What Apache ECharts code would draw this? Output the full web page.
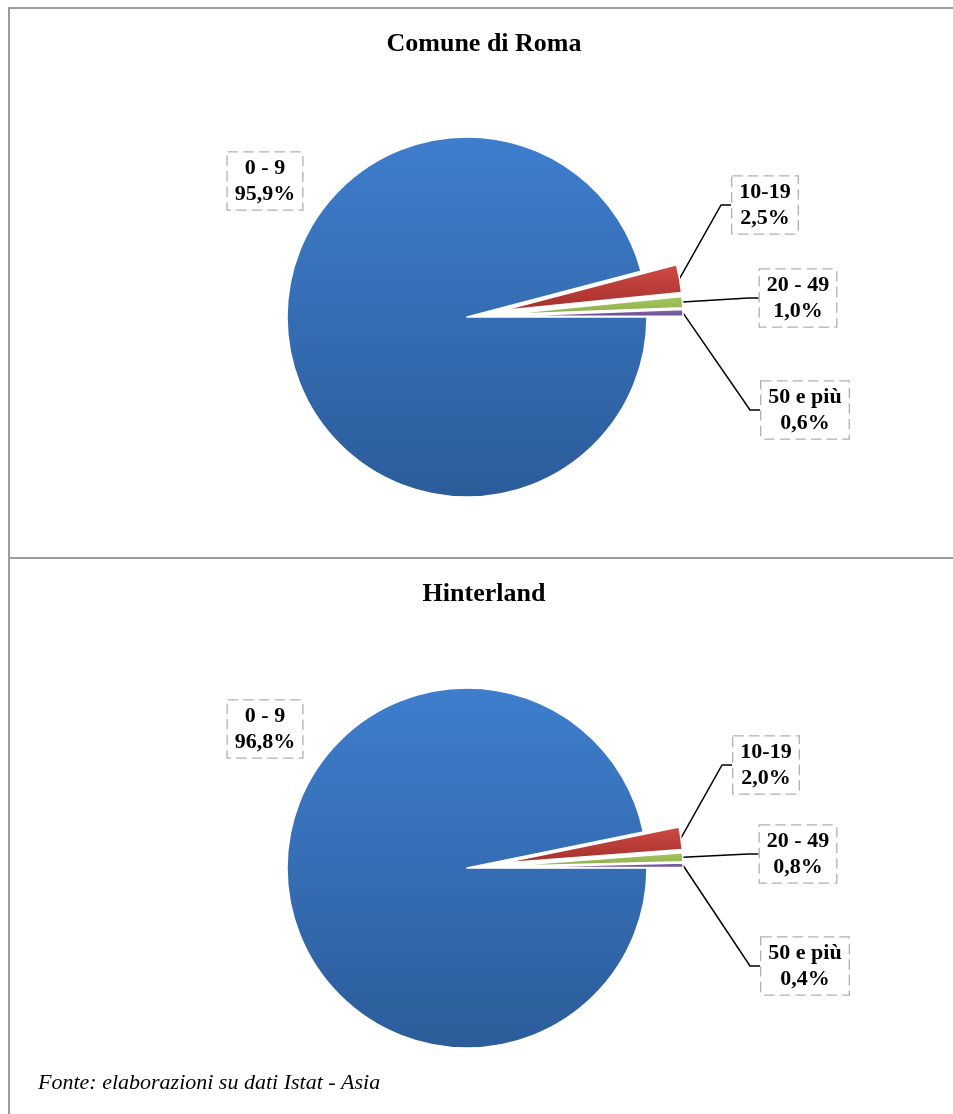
<!DOCTYPE html>
<html><head><meta charset="utf-8">
<script src="https://cdn.jsdelivr.net/npm/echarts@6/dist/echarts.min.js"></script>
<style>html,body{margin:0;padding:0;background:#fff}#c{width:953px;height:1114px}</style>
</head><body><div id="c"></div>
<script>
// ---- data ----
const categories = ['0 - 9', '10-19', '20 - 49', '50 e più'];
const romaValues = [95.9, 2.5, 1.0, 0.6];
const hinterlandValues = [96.8, 2.0, 0.8, 0.4];
const chartTitles = ['Comune di Roma', 'Hinterland'];
const sourceNote = 'Fonte: elaborazioni su dati Istat - Asia';

// ---- styles / layout ----
const sliceColors = [['#3e7ecd', '#2c5c9a'], ['#d04b45', '#a32f2b'], ['#a8c960', '#8aab48'], ['#8769b2', '#674a90']];
const panels = [
  { values: romaValues, title: chartTitles[0], center: [467, 317], titleTop: 31,
    labelPos: [[265, 181], [765, 205], [798, 298], [805, 410]] },
  { values: hinterlandValues, title: chartTitles[1], center: [467, 868], titleTop: 581,
    labelPos: [[265, 729], [766, 765], [798, 854], [805, 966]] }
];
const pieRadius = 180;
const explode = 36;
const serif = '"Liberation Serif", "Times New Roman", serif';
const fmt = v => v.toFixed(1).replace('.', ',') + '%';

const chart = echarts.init(document.getElementById('c'), null, { renderer: 'canvas' });

const titles = panels.map(p => ({
  text: p.title, left: 484, textAlign: 'center', top: p.titleTop, padding: 0,
  textStyle: { fontFamily: serif, fontWeight: 'bold', fontSize: 26, color: '#000' }
}));

const series = [];
panels.forEach(p => {
  // visible, exploded slices
  series.push({
    type: 'pie',
    center: p.center,
    radius: pieRadius,
    startAngle: 0,
    clockwise: true,
    avoidLabelOverlap: false,
    selectedMode: 'multiple',
    selectedOffset: explode,
    silent: true,
    emphasis: { disabled: true },
    select: { itemStyle: { borderColor: '#fff', borderWidth: 1.5 } },
    itemStyle: { borderColor: '#fff', borderWidth: 1.5 },
    label: { show: false },
    labelLine: { show: false },
    data: categories.map((name, i) => ({
      name: name,
      value: p.values[i],
      selected: i > 0,
      itemStyle: {
        color: { type: 'linear', x: 0, y: 0, x2: 0, y2: 1,
          colorStops: [{ offset: 0, color: sliceColors[i][0] }, { offset: 1, color: sliceColors[i][1] }] }
      }
    }))
  });
  // transparent twin reaching the exploded rim: carries the boxed labels and leader lines
  series.push({
    type: 'pie',
    center: p.center,
    radius: pieRadius + explode,
    startAngle: 0,
    clockwise: true,
    avoidLabelOverlap: false,
    selectedMode: false,
    silent: true,
    emphasis: { disabled: true },
    itemStyle: { color: 'rgba(0,0,0,0)', borderWidth: 0 },
    label: {
      show: true, position: 'outside',
      formatter: prm => prm.name + '\n' + fmt(prm.value),
      fontFamily: serif, fontWeight: 'bold', fontSize: 22, lineHeight: 26, color: '#000',
      align: 'center',
      borderType: 'dashed', borderColor: '#b0b0b0', borderWidth: 1.3,
      padding: [3, 7, 2, 7], backgroundColor: '#fff'
    },
    labelLine: { show: true, length: 20, length2: 10, lineStyle: { color: '#000', width: 1.5 } },
    labelLayout: prm => {
      const pos = p.labelPos[prm.dataIndex];
      return { x: pos[0], y: pos[1], align: 'center', verticalAlign: 'middle' };
    },
    data: categories.map((name, i) => ({
      name: name,
      value: p.values[i],
      labelLine: { show: i > 0 }
    }))
  });
});

const borderColor = '#9c9c9c';
chart.setOption({
  animation: false,
  title: titles,
  series: series,
  graphic: [
    { type: 'line', shape: { x1: 8, y1: 8, x2: 953, y2: 8 }, style: { stroke: borderColor, lineWidth: 2 } },
    { type: 'line', shape: { x1: 9, y1: 7, x2: 9, y2: 1114 }, style: { stroke: borderColor, lineWidth: 2 } },
    { type: 'line', shape: { x1: 8, y1: 558, x2: 953, y2: 558 }, style: { stroke: borderColor, lineWidth: 2 } },
    { type: 'text', left: 38, top: 1072,
      style: { text: sourceNote, fontFamily: serif, fontStyle: 'italic', fontSize: 22, fill: '#000' } }
  ]
});
</script>
</body></html>
